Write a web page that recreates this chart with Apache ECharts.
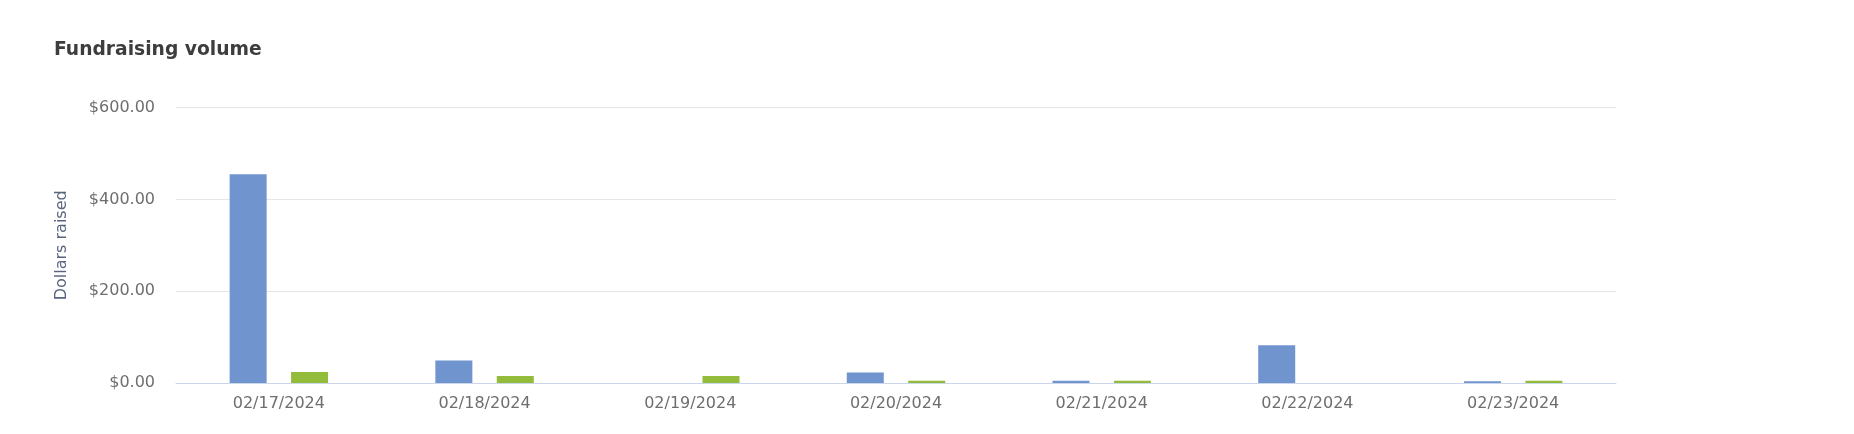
<!DOCTYPE html>
<html>
<head>
<meta charset="utf-8">
<script src="https://cdn.jsdelivr.net/npm/echarts@6/dist/echarts.min.js"></script>
<style>
html,body{margin:0;padding:0;background:#fff;}
#chart{width:1854px;height:434px;}
</style>
</head>
<body>
<div id="chart"></div>
<script>
const categories = ['02/17/2024','02/18/2024','02/19/2024','02/20/2024','02/21/2024','02/22/2024','02/23/2024'];
const seriesBlue = [455, 49, 0, 23, 5, 82, 4];
const seriesGreen = [24, 15, 15, 5, 5, 0, 5];
const yTicks = [0, 200, 400, 600];

const chart = echarts.init(document.getElementById('chart'));
chart.setOption({
  animation: false,
  backgroundColor: '#ffffff',
  title: {
    text: 'Fundraising volume',
    left: 49,
    top: 36,
    textStyle: { fontFamily: 'DejaVu Sans', fontSize: 18.7, fontWeight: 'bold', color: '#3d3d3d' }
  },
  grid: { left: 176, right: 238, top: 107.6, bottom: 51, containLabel: false },
  xAxis: {
    type: 'category',
    data: categories,
    axisLine: { show: true, lineStyle: { color: '#ccd6eb', width: 1 } },
    axisTick: { show: false },
    axisLabel: { fontFamily: 'DejaVu Sans', fontSize: 16, color: '#6e6e6e', margin: 13 }
  },
  yAxis: {
    type: 'value',
    min: yTicks[0],
    max: yTicks[yTicks.length - 1],
    interval: 200,
    name: 'Dollars raised',
    nameLocation: 'middle',
    nameRotate: 90,
    nameGap: 106,
    nameTextStyle: { fontFamily: 'DejaVu Sans', fontSize: 16, color: '#5a6680' },
    axisLine: { show: false },
    axisTick: { show: false },
    splitLine: { lineStyle: { color: '#e6e6e6', width: 1 } },
    axisLabel: {
      fontFamily: 'DejaVu Sans', fontSize: 16, color: '#6e6e6e', margin: 21,
      formatter: v => '$' + v.toFixed(2)
    }
  },
  series: [
    {
      name: 'Series 1', type: 'bar', data: seriesBlue,
      barWidth: 37, barGap: '66%',
      itemStyle: { color: '#7094cd' }
    },
    {
      name: 'Series 2', type: 'bar', data: seriesGreen,
      barWidth: 37,
      itemStyle: { color: '#92bc3a' }
    }
  ]
});
</script>
</body>
</html>
